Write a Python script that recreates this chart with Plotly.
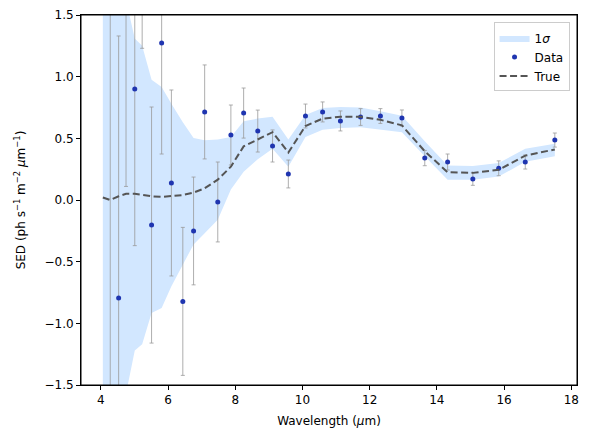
import plotly.graph_objects as go

# Rejilla del modelo (banda 1 sigma y curva verdadera)
wave_model = [4.06, 4.28, 4.53, 4.75, 5.01, 5.23, 5.51, 5.81, 6.10, 6.44,
              6.76, 7.09, 7.48, 7.87, 8.25, 8.67, 9.11, 9.58, 10.09, 10.60,
              11.13, 11.73, 12.32, 12.96, 13.64, 14.32, 15.07, 15.84, 16.63, 17.51]
true_sed = [0.02, 0.0, 0.03, 0.05, 0.05, 0.04, 0.03, 0.025, 0.03, 0.04,
            0.06, 0.095, 0.165, 0.27, 0.435, 0.49, 0.55, 0.385, 0.60, 0.66,
            0.675, 0.675, 0.65, 0.605, 0.395, 0.225, 0.22, 0.245, 0.36, 0.41]
band_upper = [4.0, 4.0, 3.0, 1.62, 1.31, 1.25, 0.976, 0.916, 0.78, 0.63,
              0.503, 0.484, 0.49, 0.51, 0.638, 0.66, 0.675, 0.49, 0.69, 0.745,
              0.754, 0.75, 0.72, 0.684, 0.476, 0.28, 0.276, 0.30, 0.416, 0.457]
band_lower = [-4.0, -4.0, -3.0, -1.57, -1.22, -1.17, -0.916, -0.876, -0.70, -0.52,
              -0.36, -0.27, -0.16, 0.085, 0.23, 0.33, 0.415, 0.27, 0.51, 0.57,
              0.584, 0.59, 0.57, 0.55, 0.354, 0.165, 0.165, 0.19, 0.31, 0.354]

# Datos observados con barras de error
wave_data = [4.28, 4.53, 4.75, 5.01, 5.23, 5.51, 5.81, 6.10, 6.44, 6.76,
             7.09, 7.48, 7.87, 8.25, 8.67, 9.11, 9.58, 10.09, 10.60, 11.13,
             11.73, 12.32, 12.96, 13.64, 14.32, 15.07, 15.84, 16.63, 17.51]
sed_data = [-1.9, -0.795, 1.81, 0.90, 2.33, -0.203, 1.273, 0.138, -0.822, -0.251,
            0.714, -0.016, 0.527, 0.705, 0.559, 0.438, 0.211, 0.681, 0.714, 0.641,
            0.673, 0.681, 0.665, 0.34, 0.308, 0.17, 0.257, 0.308, 0.486]
sed_err = [3.7, 2.125, 1.7, 1.27, 1.1, 0.957, 0.90, 0.754, 0.60, 0.437,
           0.381, 0.324, 0.243, 0.203, 0.17, 0.13, 0.113, 0.097, 0.081, 0.081,
           0.068, 0.06, 0.065, 0.062, 0.065, 0.051, 0.06, 0.057, 0.057]

band_color = '#d2e7ff'

fig = go.Figure()

# Banda 1 sigma (límite inferior + relleno hasta el superior)
fig.add_trace(go.Scatter(
    x=wave_model, y=band_lower, mode='lines',
    line=dict(width=0, color=band_color),
    showlegend=False, hoverinfo='skip'
))
fig.add_trace(go.Scatter(
    x=wave_model, y=band_upper, mode='lines',
    line=dict(width=0, color=band_color),
    fill='tonexty', fillcolor=band_color,
    name='1<i>σ</i>'
))

# Puntos de datos
fig.add_trace(go.Scatter(
    x=wave_data, y=sed_data, mode='markers',
    marker=dict(size=5, color='#1f35b0'),
    error_y=dict(type='data', array=sed_err, color='#999999',
                 thickness=0.8, width=2),
    name='Data'
))

# Curva verdadera
fig.add_trace(go.Scatter(
    x=wave_model, y=true_sed, mode='lines',
    line=dict(color='#555555', width=2, dash='7px,3.5px'),
    name='True'
))

axis_style = dict(
    showgrid=False, zeroline=False,
    showline=True, linecolor='black', linewidth=1, mirror=True,
    ticks='outside', ticklen=4, tickcolor='black',
    tickfont=dict(size=12, color='black'),
    title_font=dict(size=12, color='black'),
    ticklabeloverflow='allow',
    automargin=False
)

# Marco completo del área de dibujo (estilo matplotlib)
fig.add_shape(
    type='rect', xref='paper', yref='paper',
    x0=0, y0=0, x1=1, y1=1,
    line=dict(color='black', width=1), layer='above'
)

# La página añade 8px de margen al body: se compensa con un lienzo algo menor
fig.update_layout(
    width=581, height=434,
    margin=dict(l=73, r=12, t=7, b=57),
    plot_bgcolor='white', paper_bgcolor='white',
    font=dict(family='DejaVu Sans', size=12, color='black'),
    xaxis=dict(
        axis_style, range=[3.41, 18.17],
        tickvals=[4, 6, 8, 10, 12, 14, 16, 18],
        title=dict(text='Wavelength (<i>μ</i>m)', standoff=10)
    ),
    yaxis=dict(
        axis_style, range=[-1.5, 1.5],
        tickvals=[-1.5, -1.0, -0.5, 0.0, 0.5, 1.0, 1.5], tickformat='.1f',
        title=dict(text='SED (ph s<sup>−1</sup> m<sup>−2</sup> <i>μ</i>m<sup>−1</sup>)', standoff=16)
    ),
    legend=dict(
        x=0.985, y=0.98, xanchor='right', yanchor='top',
        traceorder='normal',
        bgcolor='rgba(255,255,255,0.8)', bordercolor='#cccccc', borderwidth=1,
        font=dict(size=12)
    ),
    showlegend=True
)

fig.write_html("out.html")
